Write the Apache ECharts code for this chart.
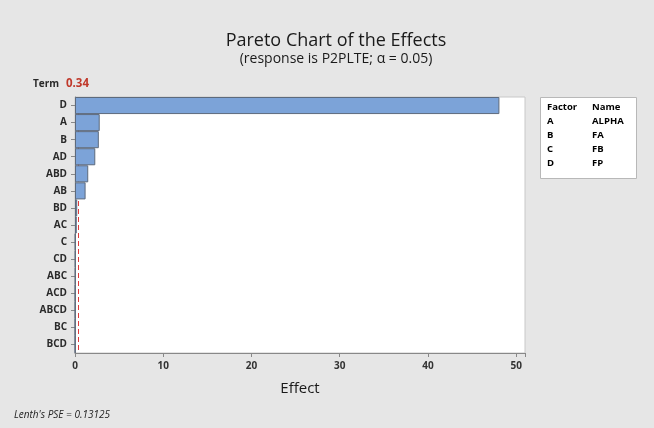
<!DOCTYPE html>
<html>
<head>
<meta charset="utf-8">
<script src="https://cdn.jsdelivr.net/npm/echarts@6/dist/echarts.min.js"></script>
<style>
  html, body { margin: 0; padding: 0; background: #e6e6e6; }
  #main { width: 654px; height: 428px; }
</style>
</head>
<body>
<div id="main"></div>
<script>
// термы и эффекты
const terms = ['D', 'A', 'B', 'AD', 'ABD', 'AB', 'BD', 'AC', 'C', 'CD', 'ABC', 'ACD', 'ABCD', 'BC', 'BCD'];
const effects = [48.1, 2.8, 2.7, 2.3, 1.5, 1.2, 0.25, 0.2, 0.05, 0.05, 0.05, 0.03, 0.03, 0.02, 0.02];
const refValue = 0.34;
const xTicks = [0, 10, 20, 30, 40, 50];
const factors = ['A', 'B', 'C', 'D'];
const factorNames = ['ALPHA', 'FA', 'FB', 'FP'];

const font = 'Open Sans';
let chart = echarts.init(document.getElementById('main'));

let legendLines = ['{h|Factor}{n|Name}'];
factors.forEach((f, i) => {
    legendLines.push('{f|' + f + '}{v|' + factorNames[i] + '}');
});

const option = {
    backgroundColor: '#e6e6e6',
    textStyle: { fontFamily: font },
    title: [
        {
            text: 'Pareto Chart of the Effects',
            subtext: '(response is P2PLTE; \u03b1 = 0.05)',
            left: 331,
            textAlign: 'center',
            top: 27,
            itemGap: 2,
            textStyle: { fontSize: 18, fontWeight: 'normal', color: '#1a1a1a', fontFamily: font },
            subtextStyle: { fontSize: 14, color: '#1a1a1a', fontFamily: font }
        },
        {
            text: "Lenth's PSE = 0.13125",
            left: 9,
            top: 405,
            textStyle: { fontSize: 10, fontStyle: 'italic', fontWeight: 'normal', color: '#222', fontFamily: font }
        }
    ],
    grid: {
        left: 75,
        right: 129,
        top: 97,
        bottom: 75,
        show: true,
        backgroundColor: '#fff',
        borderColor: '#c8c8c8',
        borderWidth: 1
    },
    xAxis: {
        type: 'value',
        min: 0,
        max: 51,
        interval: 10,
        name: 'Effect',
        nameLocation: 'middle',
        nameGap: 28,
        nameTextStyle: { fontSize: 15, color: '#1a1a1a', fontFamily: font },
        axisLine: { show: true, lineStyle: { color: '#888' } },
        axisTick: { show: true, length: 4, lineStyle: { color: '#888' } },
        axisLabel: {
            fontSize: 10, fontWeight: 'bold', color: '#333', margin: 8,
            formatter: v => xTicks.includes(v) ? String(v) : ''
        },
        splitLine: { show: false }
    },
    yAxis: {
        type: 'category',
        data: terms,
        inverse: true,
        axisLine: { show: true, lineStyle: { color: '#888' } },
        axisTick: { show: true, alignWithLabel: true, length: 4, lineStyle: { color: '#888' } },
        axisLabel: { fontSize: 10, fontWeight: 'bold', color: '#2a2a2a', margin: 8 },
        splitLine: { show: false }
    },
    series: [
        {
            type: 'bar',
            data: effects,
            z: 10,
            barCategoryGap: 0,
            itemStyle: { color: '#7ca3d8', borderColor: '#5d6a7c', borderWidth: 1 }
        },
        {
            // опорная линия за столбцами
            type: 'line',
            data: [],
            z: 1,
            markLine: {
                z: 1,
                symbol: 'none',
                silent: true,
                lineStyle: { color: '#e03c3c', type: [5, 3], width: 1 },
                label: { show: false },
                data: [{ xAxis: refValue }]
            }
        }
    ],
    graphic: [
        {
            type: 'text',
            left: 33,
            top: 79,
            style: { text: 'Term', fontSize: 10, fontWeight: 'bold', fill: '#2a2a2a', fontFamily: font }
        },
        {
            type: 'text',
            left: 66,
            top: 78,
            style: { text: String(refValue), fontSize: 11.5, fontWeight: 'bold', fill: '#c0392b', fontFamily: font }
        },
        {
            type: 'rect',
            left: 540,
            top: 97,
            shape: { width: 96, height: 81 },
            style: { fill: '#fff', stroke: '#b8b8b8', lineWidth: 1 }
        },
        {
            type: 'text',
            left: 547,
            top: 100,
            style: {
                text: legendLines.join('\n'),
                lineHeight: 14,
                rich: {
                    h: { fontSize: 9.5, fontWeight: 'bold', color: '#222', width: 45, fontFamily: font, lineHeight: 14 },
                    n: { fontSize: 9.5, fontWeight: 'bold', color: '#222', fontFamily: font, lineHeight: 14 },
                    f: { fontSize: 9.5, fontWeight: 'bold', color: '#222', width: 45, fontFamily: font, lineHeight: 14 },
                    v: { fontSize: 9.5, fontWeight: 'bold', color: '#222', fontFamily: font, lineHeight: 14 }
                }
            }
        }
    ]
};
chart.setOption(option);
</script>
</body>
</html>
